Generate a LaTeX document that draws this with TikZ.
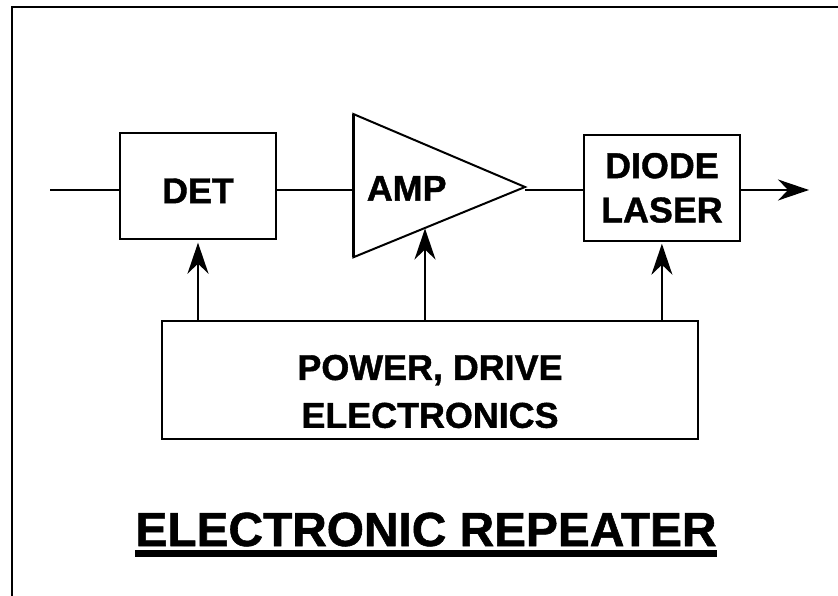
\documentclass[tikz,border=0pt]{standalone}
\usepackage{fontspec}
\setmainfont{Liberation Sans}[BoldFeatures={FakeBold=1.2}]
\usetikzlibrary{arrows.meta,positioning,calc}
\tikzset{
  blk/.style={draw,line width=2bp,minimum width=156bp,minimum height=106bp,align=center,inner sep=0pt,font=\bfseries\fontsize{36}{44.5}\selectfont},
  lbl/.style={inner sep=0pt,align=center,font=\bfseries\fontsize{36}{48}\selectfont},
  wire/.style={line width=2bp},
  arrow/.style={wire,-{Stealth[length=31bp,width=21bp,inset=10bp]}},
  frame/.style={line width=2bp}
}

\begin{document}
\begin{tikzpicture}[x=1bp,y=-1bp]
\useasboundingbox (0,0) rectangle (838,596);
\draw[frame] (12,7) rectangle (860,620);
% blocks
\node[blk,text height=35bp] (det) at (198,185.7) {DET};
\node[blk,minimum width=156.3bp,minimum height=105.7bp] (laser) at (661.9,187.9) {DIODE\\LASER};
\node[blk,minimum width=536bp,minimum height=118.6bp] (power) at (430,380) {};
\node[lbl] (powertxt) at (430,391.5) {POWER, DRIVE\\ELECTRONICS};
% amplifier
\coordinate (amptop) at (353.3,114);
\coordinate (ampbot) at (353.3,257.3);
\coordinate (ampout) at (525,187);
\coordinate (ampin) at (353.3,190);
\coordinate (ampfeed) at (425,228.5);
\draw[wire,line join=miter] (amptop) -- (ampout) -- (ampbot) -- cycle;
\draw[line width=3bp] (amptop) -- (ampbot);
\node[lbl,anchor=base] (amptxt) at (406.7,200.7) {AMP};
% signal path
\coordinate (src) at (50,190);
\coordinate (sink) at (809,190);
\draw[wire] (src) -- (src -| det.west);
\draw[wire] (det.east |- src) -- (ampin);
\draw[wire] (ampout |- src) -- (laser.west |- src);
\draw[arrow] (laser.east |- src) -- (sink);
% supply
\draw[arrow,shorten >=3bp] (det.south |- power.north) -- (det.south);
\draw[arrow] (ampfeed |- power.north) -- (ampfeed);
\draw[arrow,shorten >=2bp] (laser.south |- power.north) -- (laser.south);
% title
\node[lbl,font=\bfseries\fontsize{48}{56}\selectfont,anchor=base] (title) at (426,546) {ELECTRONIC REPEATER};
\draw[line width=7bp] ([yshift=-7bp]title.base west) -- ([yshift=-7bp]title.base east);
\end{tikzpicture}
\end{document}
